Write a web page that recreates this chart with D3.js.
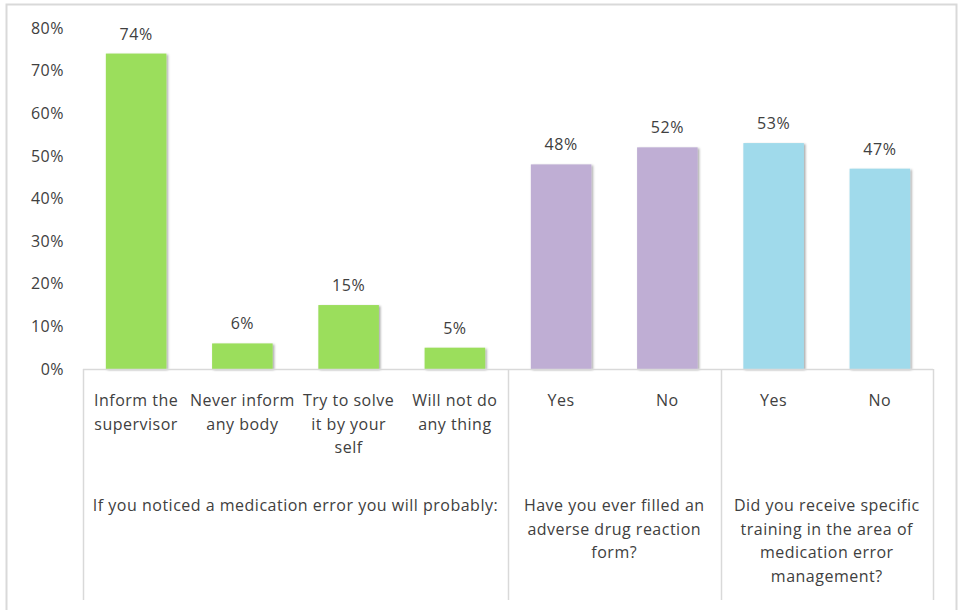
<!DOCTYPE html>
<html>
<head>
<meta charset="utf-8">
<script src="https://cdn.jsdelivr.net/npm/d3@7"></script>
<style>
  html, body { margin: 0; padding: 0; background: #fff; }
  svg { display: block; font-family: "Open Sans", "Noto Sans", sans-serif; }
  svg text { letter-spacing: 0.5px; }
</style>
</head>
<body>
<svg id="chart" width="959" height="610"></svg>
<script>
// Survey answers, one bar per answer, grouped by question
const categories = [
  "Inform the supervisor", "Never inform any body", "Try to solve it by your self", "Will not do any thing",
  "Yes", "No", "Yes", "No"
];
const categoryLines = [
  ["Inform the", "supervisor"], ["Never inform", "any body"], ["Try to solve", "it by your", "self"], ["Will not do", "any thing"],
  ["Yes"], ["No"], ["Yes"], ["No"]
];
const values = [74, 6, 15, 5, 48, 52, 53, 47];
const groupOf = [0, 0, 0, 0, 1, 1, 2, 2];
const groups = [
  ["If you noticed a medication error you will probably:"],
  ["Have you ever filled an", "adverse drug reaction", "form?"],
  ["Did you receive specific", "training in the area of", "medication error", "management?"]
];
const groupColors = ["#9bde5b", "#bfaed4", "#a0daeb"];
const yTicks = [0, 10, 20, 30, 40, 50, 60, 70, 80];

const svg = d3.select("#chart");
const textColor = "#404040";
const lineColor = "#d9d9d9";
const fontSize = 16;

// outer frame
svg.append("path")
  .attr("d", "M6.5,612 V4.5 H956.5 V612")
  .attr("fill", "none").attr("stroke", lineColor).attr("stroke-width", 2);

const plotLeft = 83, plotRight = 933, plotTop = 28, plotBottom = 369;

const x = d3.scaleBand().domain(d3.range(categories.length)).range([plotLeft, plotRight]).paddingInner(0.43).paddingOuter(0.215);
const y = d3.scaleLinear().domain([0, 80]).range([plotBottom, plotTop]);

// soft shadow under the bars
const defs = svg.append("defs");
const f = defs.append("filter").attr("id", "shadow").attr("x", "-10%").attr("y", "-10%").attr("width", "130%").attr("height", "130%");
f.append("feDropShadow").attr("dx", 1.5).attr("dy", 1).attr("stdDeviation", 1.2).attr("flood-color", "#000").attr("flood-opacity", 0.35);

// y axis labels
const yAxis = d3.axisLeft(y).tickValues(yTicks).tickFormat(d => d + "%").tickSize(0).tickPadding(0);
const yg = svg.append("g").attr("transform", `translate(${64},0)`).call(yAxis);
yg.select(".domain").remove();
yg.selectAll("text").attr("fill", textColor).attr("font-size", fontSize).attr("font-family", "Open Sans, sans-serif");

// bars
svg.append("g").selectAll("rect").data(values).join("rect")
  .attr("x", (d, i) => x(i))
  .attr("y", d => y(d))
  .attr("width", x.bandwidth())
  .attr("height", d => y(0) - y(d))
  .attr("fill", (d, i) => groupColors[groupOf[i]])
  .attr("filter", "url(#shadow)");

// value labels
svg.append("g").selectAll("text").data(values).join("text")
  .attr("x", (d, i) => x(i) + x.bandwidth() / 2)
  .attr("y", d => y(d) - 14)
  .attr("text-anchor", "middle")
  .attr("fill", textColor).attr("font-size", fontSize)
  .text(d => d + "%");

// category axis line and group separators
const step = x.step();
const bounds = [0, 4, 6, 8].map(i => plotLeft + i * step);
svg.append("line").attr("x1", plotLeft).attr("x2", plotRight).attr("y1", plotBottom + 0.5).attr("y2", plotBottom + 0.5)
  .attr("stroke", lineColor).attr("stroke-width", 1.5);
svg.append("g").selectAll("line").data(bounds).join("line")
  .attr("x1", d => Math.round(d) + 0.5).attr("x2", d => Math.round(d) + 0.5)
  .attr("y1", plotBottom).attr("y2", 600)
  .attr("stroke", lineColor).attr("stroke-width", 1.5);

// category labels
const catG = svg.append("g").selectAll("text").data(categoryLines).join("text")
  .attr("text-anchor", "middle")
  .attr("fill", textColor).attr("font-size", fontSize);
catG.each(function (lines, i) {
  d3.select(this).selectAll("tspan").data(lines).join("tspan")
    .attr("x", x(i) + x.bandwidth() / 2)
    .attr("y", (l, j) => 406 + j * 23.5)
    .text(l => l);
});

// group labels
const grpG = svg.append("g").selectAll("text").data(groups).join("text")
  .attr("text-anchor", "middle")
  .attr("fill", textColor).attr("font-size", fontSize);
grpG.each(function (lines, g) {
  const cx = (bounds[g] + bounds[g + 1]) / 2;
  d3.select(this).selectAll("tspan").data(lines).join("tspan")
    .attr("x", cx)
    .attr("y", (l, j) => 511 + j * 23.5)
    .text(l => l);
});
</script>
</body>
</html>
